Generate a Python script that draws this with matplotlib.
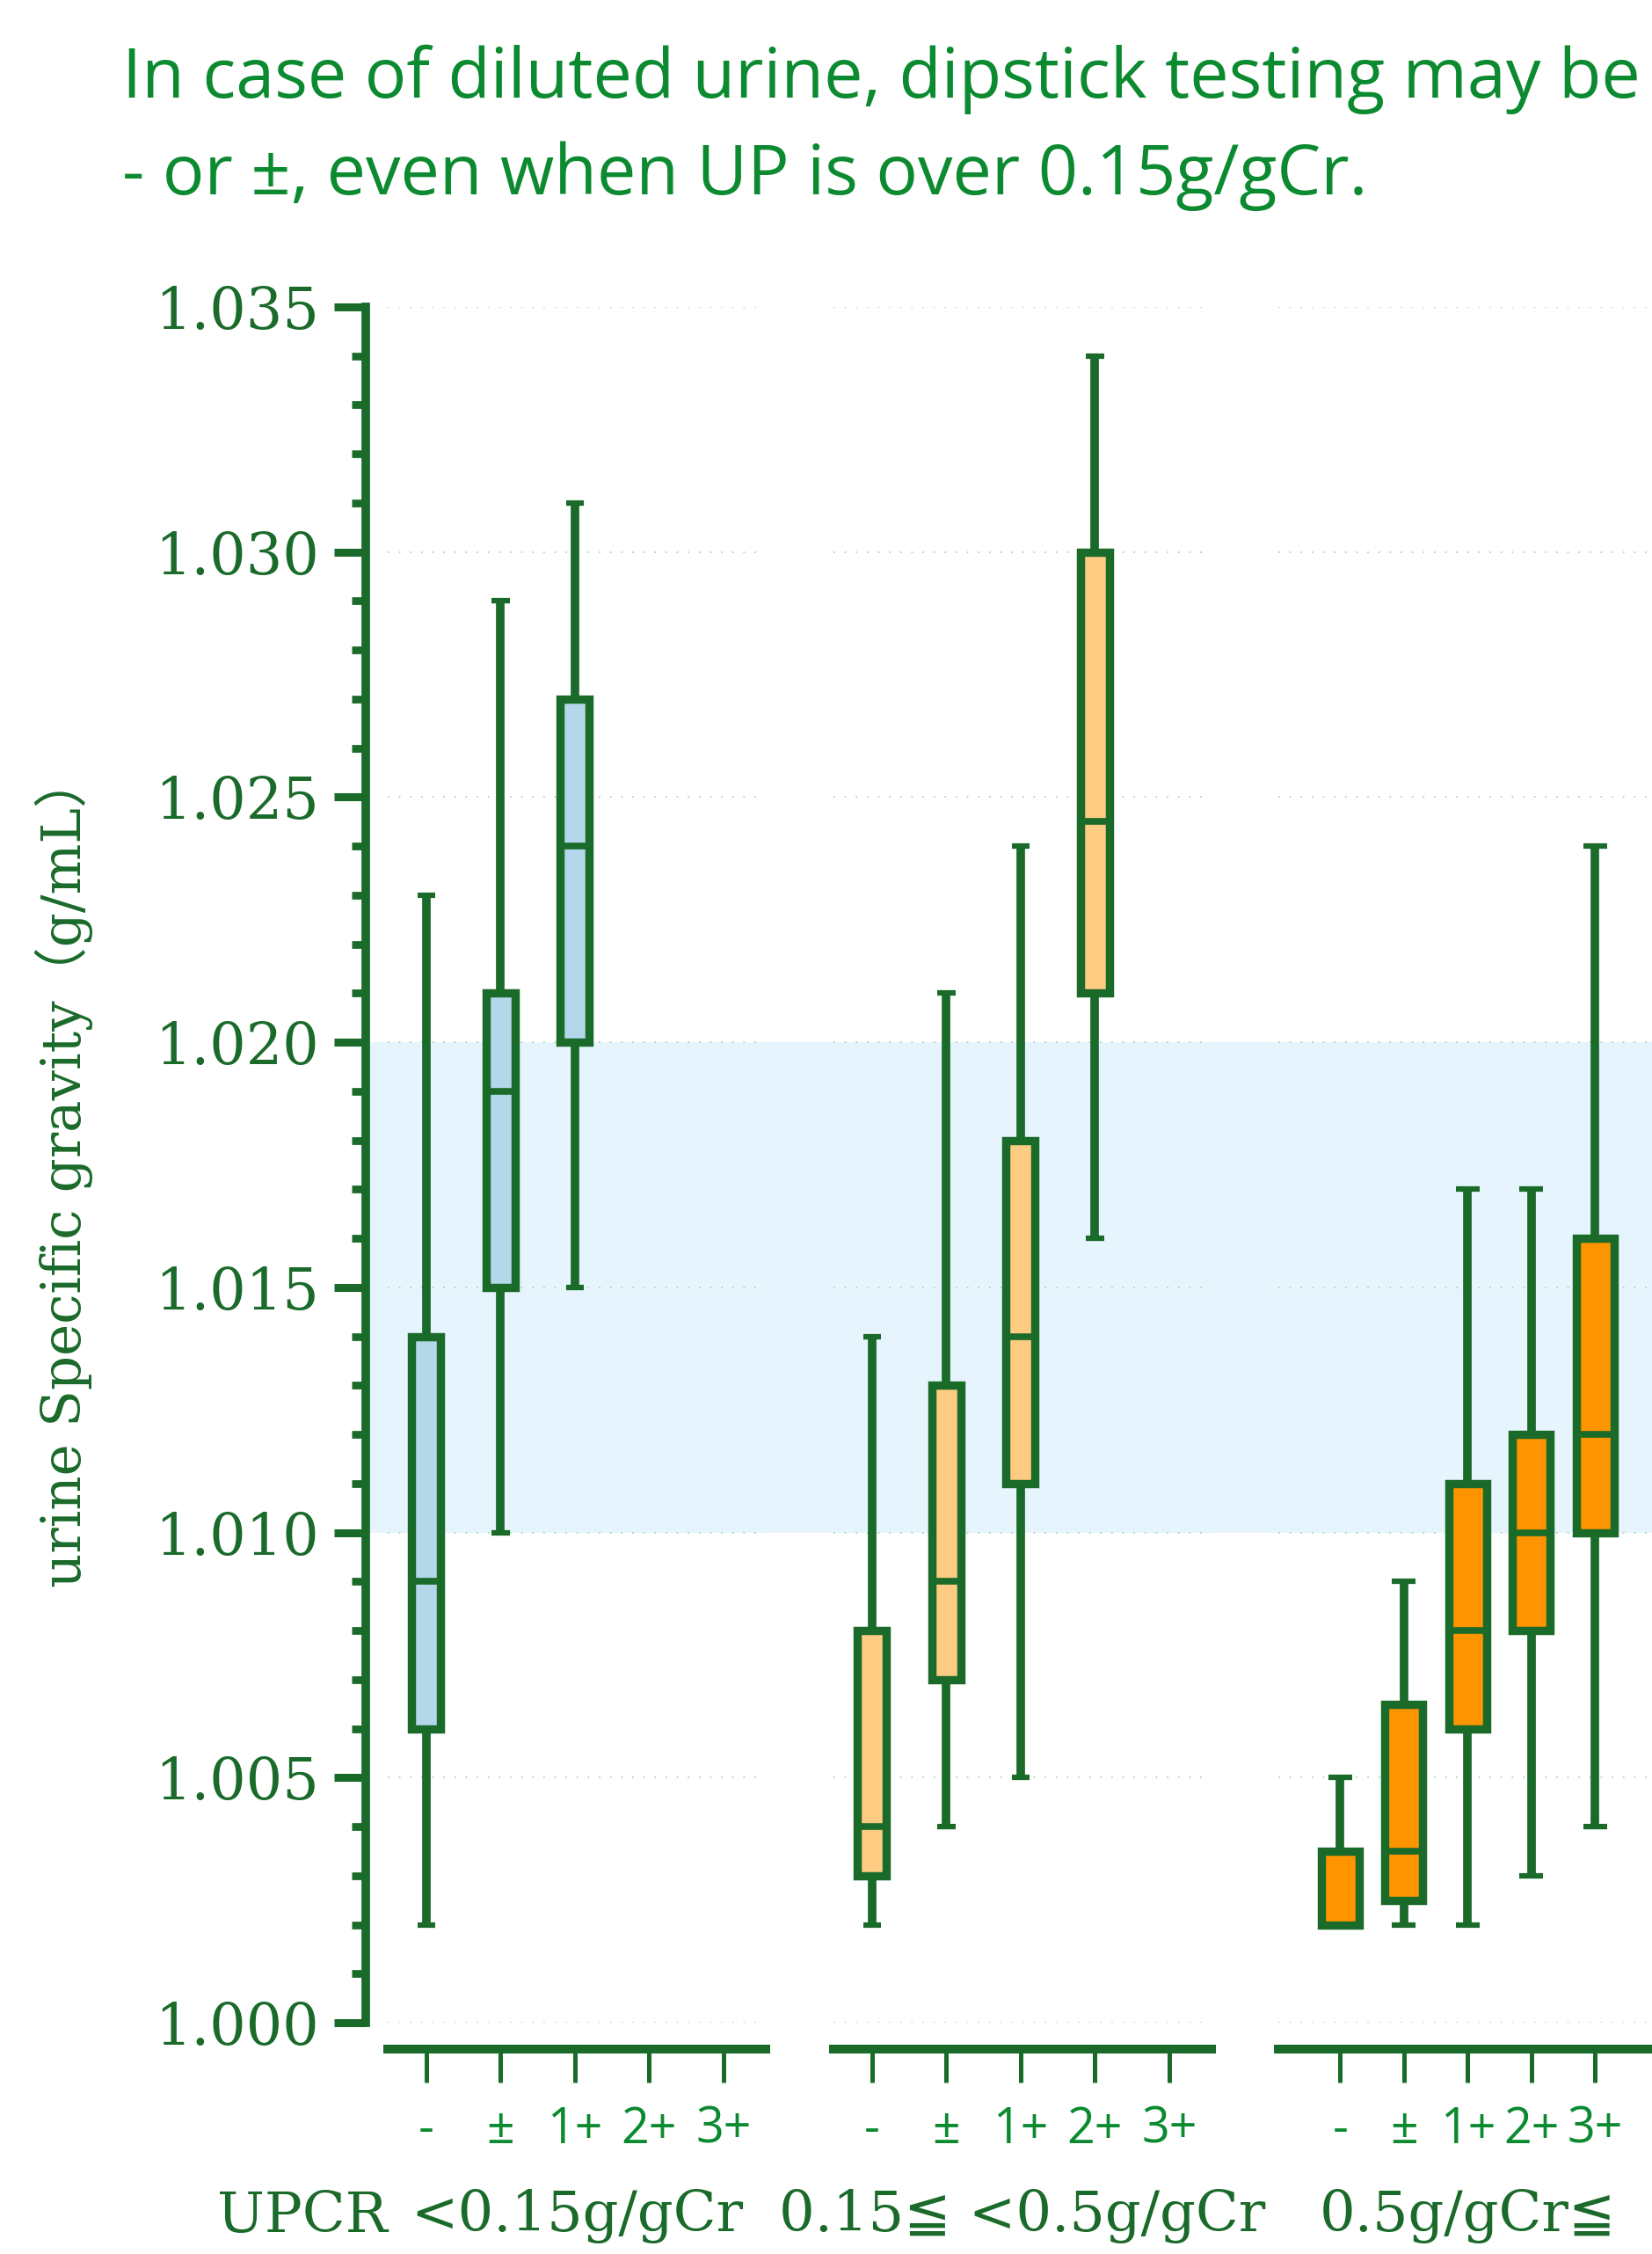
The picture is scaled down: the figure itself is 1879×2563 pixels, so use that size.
import matplotlib
matplotlib.use('Agg')
import matplotlib.pyplot as plt
import matplotlib.transforms as mtrans
from matplotlib.patches import Rectangle
from matplotlib.ticker import MultipleLocator, FormatStrFormatter

# dipstick results and UPCR groups
dip_labels = ['-', '±', '1+', '2+', '3+']
group_names = ['<0.15g/gCr', '0.15≦ <0.5g/gCr', '0.5g/gCr≦']

# box stats per group: whisker low, Q1, median, Q3, whisker high
g1_lo  = [1.002, 1.010, 1.015]
g1_q1  = [1.006, 1.015, 1.020]
g1_med = [1.009, 1.019, 1.024]
g1_q3  = [1.014, 1.021, 1.027]
g1_hi  = [1.023, 1.029, 1.031]

g2_lo  = [1.002, 1.004, 1.005, 1.016]
g2_q1  = [1.003, 1.007, 1.011, 1.021]
g2_med = [1.004, 1.009, 1.014, 1.0245]
g2_q3  = [1.008, 1.013, 1.018, 1.030]
g2_hi  = [1.014, 1.021, 1.024, 1.034]

g3_lo  = [1.002, 1.002, 1.002, 1.003, 1.004]
g3_q1  = [1.002, 1.0025, 1.006, 1.008, 1.010]
g3_med = [1.002, 1.0035, 1.008, 1.010, 1.012]
g3_q3  = [1.0035, 1.0065, 1.011, 1.012, 1.016]
g3_hi  = [1.005, 1.009, 1.017, 1.017, 1.024]

normal_lo, normal_hi = 1.010, 1.020   # reference range band

DARK = '#1a6a2a'; BRIGHT = '#0b8a30'
fills = ['#b4d7ea', '#fecb82', '#fe9400']
box_w = [0.39, 0.39, 0.59]
xlims = [(-0.52, 4.57), (-0.52, 4.57), (-0.97, 4.96)]
SERIF = ['DejaVu Serif', 'DejaVu Sans', 'Noto Sans CJK JP']

W, H = 1879, 2563
fig = plt.figure(figsize=(W/100, H/100), dpi=100)
lefts = [441, 948, 1454]
bot = 1 - 2300/H; top = 1 - 349/H
groups = [(g1_lo, g1_q1, g1_med, g1_q3, g1_hi),
          (g2_lo, g2_q1, g2_med, g2_q3, g2_hi),
          (g3_lo, g3_q1, g3_med, g3_q3, g3_hi)]
axes = []
for gi, (lo, q1, med, q3, hi) in enumerate(groups):
    ax = fig.add_axes([lefts[gi]/W, bot, 430/W, top-bot])
    ax.set_facecolor('none')
    stats = [dict(whislo=a, q1=b, med=c, q3=d, whishi=e, fliers=[]) for a, b, c, d, e in zip(lo, q1, med, q3, hi)]
    w = box_w[gi]
    ax.bxp(stats, positions=list(range(len(stats))), widths=w, capwidths=0.63*w,
           patch_artist=True, showfliers=False,
           boxprops=dict(facecolor=fills[gi], edgecolor=DARK, linewidth=6.8, joinstyle='miter'),
           whiskerprops=dict(color=DARK, linewidth=7, solid_capstyle='butt'),
           capprops=dict(color=DARK, linewidth=4.5, solid_capstyle='butt'),
           medianprops=dict(color=DARK, linewidth=5.5, solid_capstyle='butt'))
    ax.set_ylim(1.000, 1.035)
    ax.set_xlim(*xlims[gi])
    ax.set_xticks(range(5))
    ax.set_xticklabels(dip_labels)
    ax.tick_params(axis='x', direction='out', length=27, width=3.6, color=DARK, labelcolor=BRIGHT,
                   pad=19, labelsize=40, labelfontfamily='Open Sans')
    ax.grid(axis='y', which='major', ls=(0, (1, 6)), color='#b0d4b0', lw=1.3)
    ax.set_axisbelow(True)
    for s in ['top', 'right']:
        ax.spines[s].set_visible(False)
    ax.spines['bottom'].set_position(('outward', 21.6))
    ax.spines['bottom'].set_linewidth(7.2)
    ax.spines['bottom'].set_color(DARK)
    ax.yaxis.set_major_locator(MultipleLocator(0.005))
    if gi == 0:
        ax.spines['left'].set_position(('outward', 18))
        ax.spines['left'].set_linewidth(7)
        ax.spines['left'].set_color(DARK)
        ax.yaxis.set_minor_locator(MultipleLocator(0.001))
        ax.yaxis.set_major_formatter(FormatStrFormatter('%.3f'))
        ax.tick_params(axis='y', which='major', length=26, width=6.5, color=DARK, labelcolor=DARK, pad=12,
                       labelsize=47, labelfontfamily='DejaVu Serif')
        ax.tick_params(axis='y', which='minor', length=11.5, width=6.3, color=DARK)
    else:
        ax.spines['left'].set_visible(False)
        ax.tick_params(axis='y', which='both', left=False, labelleft=False)
    ax.set_xlabel(group_names[gi], family=SERIF, fontsize=46, color=DARK, va='center')
    ax.xaxis.set_label_coords(0.5, (2300-2520)/1951)
    axes.append(ax)

# reference band spans from the y spine across all groups
tr = mtrans.blended_transform_factory(fig.transFigure, axes[0].transData)
fig.patches.append(Rectangle((420/W, normal_lo), 1, normal_hi-normal_lo, transform=tr,
                             facecolor='#e6f4fe', edgecolor='none', zorder=-1))

fig.text(441/W, 1-2520/H, 'UPCR', ha='right', va='center', family='DejaVu Serif', fontsize=46, color=DARK)
fig.text(73/W, 1-1331/H, 'urine Specific gravity（g/mL）', rotation=90, ha='center', va='center',
         family=['DejaVu Serif', 'Noto Sans CJK JP'], fontsize=44, color=DARK)
fig.text(139/W, 1-111/H, 'In case of diluted urine, dipstick testing may be', ha='left', va='baseline',
         family='Open Sans', fontsize=57, color=BRIGHT)
fig.text(139/W, 1-221/H, '- or ±, even when UP is over 0.15g/gCr.', ha='left', va='baseline',
         family='Open Sans', fontsize=57, color=BRIGHT)

fig.savefig('out.png', dpi=100)
